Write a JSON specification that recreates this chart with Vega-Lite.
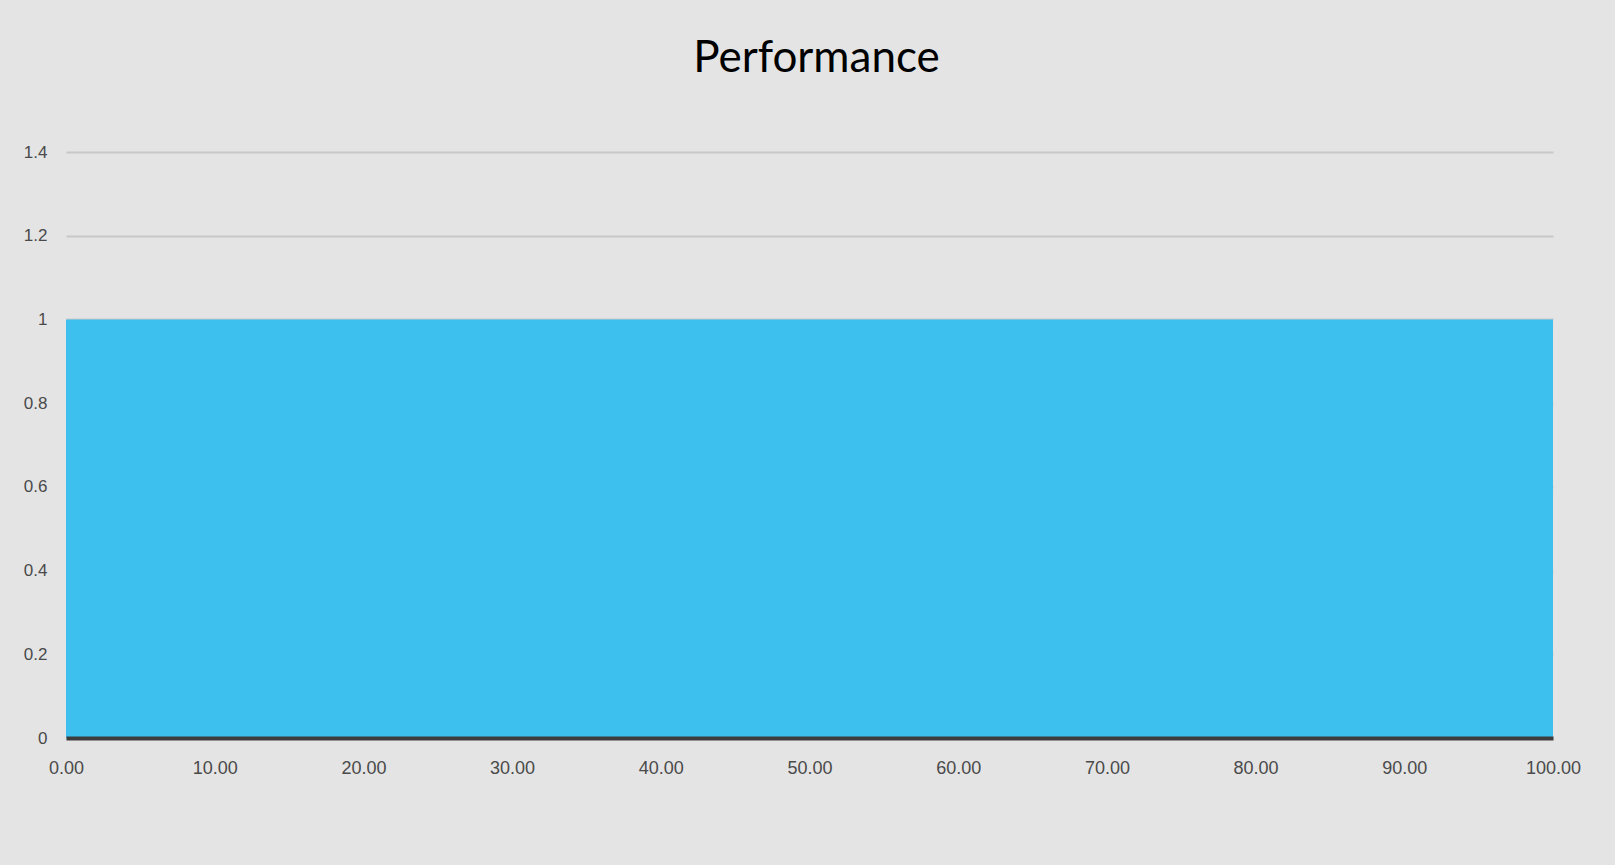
{
  "$schema": "https://vega.github.io/schema/vega-lite/v6.json",
  "width": 1487,
  "height": 586,
  "autosize": {"type": "none"},
  "padding": {"left": 66, "right": 62, "top": 152, "bottom": 127},
  "background": "#e4e4e4",
  "title": {
    "text": "Performance",
    "font": "Lato",
    "fontSize": 44,
    "fontWeight": "normal",
    "color": "#000000",
    "anchor": "middle",
    "baseline": "alphabetic",
    "offset": 27,
    "dx": 7
  },
  "data": {
    "values": [
      {"x": 0, "y": 1}, {"x": 10, "y": 1}, {"x": 20, "y": 1}, {"x": 30, "y": 1},
      {"x": 40, "y": 1}, {"x": 50, "y": 1}, {"x": 60, "y": 1}, {"x": 70, "y": 1},
      {"x": 80, "y": 1}, {"x": 90, "y": 1}, {"x": 100, "y": 1}
    ]
  },
  "mark": {"type": "area", "color": "#3dc0ee", "opacity": 1},
  "encoding": {
    "x": {
      "field": "x",
      "type": "quantitative",
      "scale": {"domain": [0, 100], "nice": false},
      "axis": {
        "title": null,
        "values": [0, 10, 20, 30, 40, 50, 60, 70, 80, 90, 100],
        "format": ".2f",
        "grid": false,
        "ticks": false,
        "zindex": 2,
        "domainColor": "#3c3c3c",
        "domainWidth": 4,
        "labelFont": "Liberation Sans",
        "labelFontSize": 18,
        "labelColor": "#4a4a4a",
        "labelPadding": 21,
        "labelFlush": false
      }
    },
    "y": {
      "field": "y",
      "type": "quantitative",
      "scale": {"domain": [0, 1.4], "nice": false},
      "axis": {
        "title": null,
        "values": [0, 0.2, 0.4, 0.6, 0.8, 1, 1.2, 1.4],
        "format": "~g",
        "domain": false,
        "ticks": false,
        "grid": true,
        "gridColor": "#c8c8c8",
        "gridWidth": 2,
        "labelFont": "Liberation Sans",
        "labelFontSize": 17,
        "labelColor": "#4a4a4a",
        "labelPadding": 19
      }
    }
  },
  "config": {"view": {"stroke": null}}
}
